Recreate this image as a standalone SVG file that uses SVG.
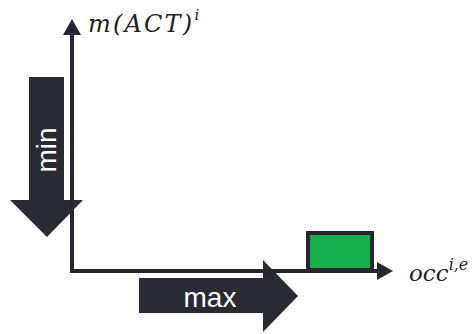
<svg xmlns="http://www.w3.org/2000/svg" width="475" height="334" viewBox="0 0 475 334">
<style>
.ax{stroke:#262630;stroke-width:4;fill:none}
.big{fill:#2a2a35}
.lbl{font-family:"Liberation Sans",Arial,sans-serif;font-size:28px;fill:#ffffff}
.math{font-family:"DejaVu Serif","Liberation Serif",serif;font-style:italic;fill:#222222}
</style>
<rect width="475" height="334" fill="#ffffff"/>
<g id="min-arrow">
<polygon class="big" points="29,77 64,77 64,200 83,200 47,237 10,200 29,200"/>
<text class="lbl" transform="translate(56,150) rotate(-90)" text-anchor="middle">min</text>
</g>
<g id="max-arrow">
<polygon class="big" points="139,278 263,278 263,260 298,296 263,332 263,313 139,313"/>
<text class="lbl" x="210" y="307" text-anchor="middle">max</text>
</g>
<g id="connectors">
<path class="ax" d="M72,34 V271 H378"/>
<polygon fill="#262630" points="72,19 81,35 63,35"/>
<polygon fill="#262630" points="393,271 377,262 377,280"/>
</g>
<g id="box">
<rect x="308" y="233" width="64" height="37" fill="#16b04a" stroke="#262630" stroke-width="4"/>
</g>
<g id="y-label">
<text class="math" x="88" y="32" font-size="24" letter-spacing="2.2">m(ACT)<tspan dy="-12" font-size="15" letter-spacing="0">i</tspan></text>
</g>
<g id="x-label">
<text class="math" x="409" y="281" font-size="23">occ<tspan dy="-11" font-size="16">i,e</tspan></text>
</g>
</svg>
